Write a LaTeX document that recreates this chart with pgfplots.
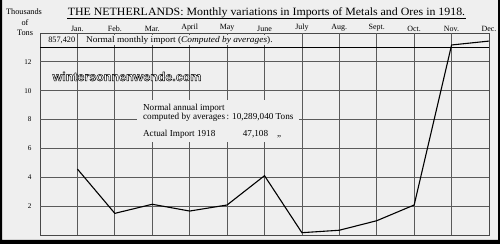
\documentclass[border=0pt]{standalone}
\usepackage{fontspec}
\setmainfont{Liberation Serif}
\newfontfamily\wmfont{Liberation Sans}
\usepackage{pgfplots}
\pgfplotsset{compat=1.18}
\definecolor{bg}{HTML}{EFEFEF}
\definecolor{gridc}{HTML}{5A5A5A}
\newcommand\wide[1]{\scalebox{1.07}[1]{#1}}
\pagecolor{bg}
\begin{document}
\begin{tikzpicture}
\path[use as bounding box] (0bp,0bp) rectangle (500bp,244bp);
\begin{axis}[
  at={(40bp,9bp)}, anchor=south west,
  scale only axis, width=449bp, height=202bp,
  xmin=0, xmax=12, ymin=0, ymax=14,
  xtick={1,...,12},
  xticklabels={Jan.,Feb.,Mar.,April,May,June,July,Aug.,Sept.,Oct.,Nov.,Dec.},
  xticklabel pos=upper,
  ytick={2,4,6,8,10,12},
  axis line style={draw=gridc!80!black, line width=0.9pt},
  major tick length=0pt,
  xticklabel style={font=\fontsize{8}{9}\selectfont, yshift=-2bp},
  yticklabel style={font=\fontsize{7.2}{8}\selectfont, xshift=-5bp},
  /pgf/number format/assume math mode=true,
]
% grid lines as plots
\addplot[gridc, line width=0.8pt, forget plot] coordinates {(1,0) (1,14)};
\addplot[gridc, line width=0.8pt, forget plot] coordinates {(2,0) (2,14)};
\addplot[gridc, line width=0.8pt, forget plot] coordinates {(3,0) (3,14)};
\addplot[gridc, line width=0.8pt, forget plot] coordinates {(4,0) (4,14)};
\addplot[gridc, line width=0.8pt, forget plot] coordinates {(5,0) (5,14)};
\addplot[gridc, line width=0.8pt, forget plot] coordinates {(6,0) (6,14)};
\addplot[gridc, line width=0.8pt, forget plot] coordinates {(7,0) (7,14)};
\addplot[gridc, line width=0.8pt, forget plot] coordinates {(8,0) (8,14)};
\addplot[gridc, line width=0.8pt, forget plot] coordinates {(9,0) (9,14)};
\addplot[gridc, line width=0.8pt, forget plot] coordinates {(10,0) (10,14)};
\addplot[gridc, line width=0.8pt, forget plot] coordinates {(11,0) (11,14)};
\addplot[gridc, line width=0.8pt, forget plot] coordinates {(0,2) (12,2)};
\addplot[gridc, line width=0.8pt, forget plot] coordinates {(0,4) (12,4)};
\addplot[gridc, line width=0.8pt, forget plot] coordinates {(0,6) (12,6)};
\addplot[gridc, line width=0.8pt, forget plot] coordinates {(0,8) (12,8)};
\addplot[gridc, line width=0.8pt, forget plot] coordinates {(0,10) (12,10)};
\addplot[gridc, line width=0.8pt, forget plot] coordinates {(0,12) (12,12)};
% normal monthly line
\addplot[black, line width=1pt] coordinates {(0,13.0) (12,13.0)};
% text in top row
\node[anchor=east, fill=bg, inner sep=1bp, font=\fontsize{8.3}{9}\selectfont] at (axis cs:1,13.5) [xshift=-1bp] {857,420};
\node[anchor=west, fill=bg, inner sep=1bp, font=\fontsize{8.8}{9}\selectfont] at (axis cs:1.2,13.5) {\wide{Normal monthly import (\textit{Computed by averages}).}};
% annotation block
\node[anchor=north west, fill=bg, inner xsep=6bp, inner ysep=4bp, align=left,
      font=\fontsize{9.2}{9.5}\selectfont] at (axis cs:2.59,9.36)
  {Normal annual import\\
   computed by averages\,: 10,289,040 Tons\\[7bp]
   \makebox[100bp][l]{Actual Import 1918}\makebox[25bp][r]{47,108}\hspace{9bp},,};
% data
\addplot[black, line width=1.1pt] coordinates {
 (1,4.57) (2,1.50) (3,2.13) (4,1.66) (5,2.08) (6,4.11)
 (7,0.16) (8,0.33) (9,0.99) (10,2.08) (11,13.17) (12,13.44)};
\end{axis}
% frame
\fill[black, even odd rule] (0bp,0bp) rectangle (500bp,244bp) (2bp,4bp) rectangle (498bp,244bp);
% title
\node[anchor=base, font=\fontsize{11.2}{12}\selectfont] at (266.5bp,228.5bp) {\scalebox{1.065}[1]{THE NETHERLANDS: Monthly variations in Imports of Metals and Ores in 1918.}};
\draw[black, line width=0.6pt] (67bp,225.5bp) -- (466bp,225.5bp);
% y label
\node[anchor=base, font=\fontsize{8.3}{9}\selectfont] at (24bp,229bp) {Thousands};
\node[anchor=base, font=\fontsize{8.3}{9}\selectfont] at (25bp,218bp) {of};
\node[anchor=base, font=\fontsize{8.3}{9}\selectfont] at (25bp,208.5bp) {Tons};
% watermark (white letters, black outline)
\node[font=\wmfont\bfseries\fontsize{12.5}{13}\selectfont, text=white] at (127bp,167.5bp) {\special{pdf:literal 0 G 0.45 w 2 Tr 1 j}wintersonnenwende.com\special{pdf:literal 0 Tr}};
\end{tikzpicture}
\end{document}
